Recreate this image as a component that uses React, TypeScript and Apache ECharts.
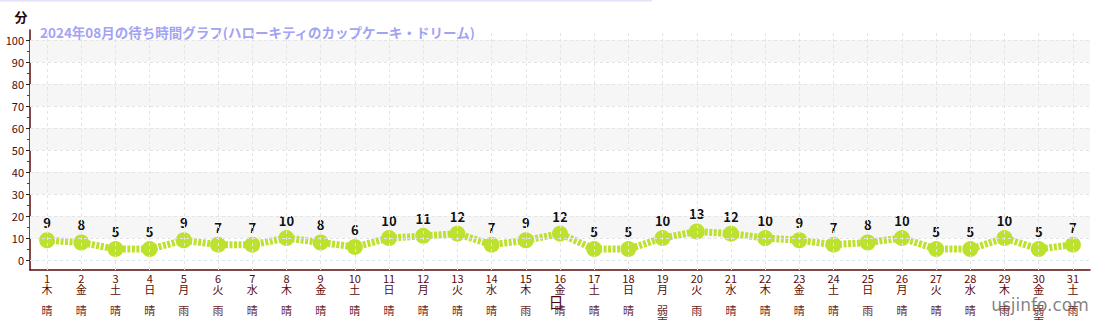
import React, { useEffect, useRef } from "react";
import * as echarts from "echarts";

const days = ["1","2","3","4","5","6","7","8","9","10","11","12","13","14","15","16","17","18","19","20","21","22","23","24","25","26","27","28","29","30","31"];
const weekdays = ["木","金","土","日","月","火","水","木","金","土","日","月","火","水","木","金","土","日","月","火","水","木","金","土","日","月","火","水","木","金","土"];
const weather = ["晴","晴","晴","晴","雨","雨","晴","晴","晴","晴","晴","晴","晴","晴","雨","晴","晴","晴","弱雨","雨","晴","晴","晴","晴","雨","晴","晴","晴","雨","弱雨","雨"];
const waitMinutes = [9,8,5,5,9,7,7,10,8,6,10,11,12,7,9,12,5,5,10,13,12,10,9,7,8,10,5,5,10,5,7];
const yTicks = [0,10,20,30,40,50,60,70,80,90,100];
const yMinorTicks = [5,15,25,35,45,55,65,75,85,95];
const bands = [[10,20],[30,40],[50,60],[70,80],[90,100]];
const chartTitle = "2024年08月の待ち時間グラフ(ハローキティのカップケーキ・ドリーム)";
const yName = "分";
const xName = "日";
const watermark = "usjinfo.com";

const FONT = '"Noto Sans CJK JP", "Noto Sans", sans-serif';

export default function App() {
  const ref = useRef<HTMLDivElement>(null);
  useEffect(() => {
    if (!ref.current) return;
    const chart = echarts.init(ref.current, null, { renderer: "svg" });
    const option: any = {
      animation: false,
      textStyle: { fontFamily: FONT },
      grid: { left: 30, right: 10, top: 30, bottom: 50, containLabel: false, outerBoundsMode: "none" },
      xAxis: {
        type: "category",
        data: days,
        boundaryGap: true,
        axisLine: { onZero: false, lineStyle: { color: "#5a0a0a", width: 1.5 } },
        axisTick: { alignWithLabel: true, length: 4, lineStyle: { color: "#333" } },
        axisLabel: {
          interval: 0,
          margin: 3,
          fontSize: 11,
          lineHeight: 10.7,
          color: "#5a0a0a",
          fontFamily: FONT,
          formatter: (v: string, i: number) => {
            const w = weather[i].split("").map((c) => `{w|${c}}`).join("\n");
            return `${v}\n${weekdays[i]}\n\n${w}`;
          },
          rich: { w: { color: "#6a2424", fontSize: 11, lineHeight: 10.7, fontFamily: FONT } },
        },
        splitLine: { show: false },
      },
      yAxis: [
        {
          type: "value",
          min: -4.5,
          max: 104.5,
          axisLine: { show: true, lineStyle: { color: "#5a0a0a", width: 1.5 } },
          axisTick: { show: true, customValues: yTicks, length: 4, lineStyle: { color: "#222" } },
          axisLabel: { customValues: yTicks, fontSize: 11, color: "#4a0a0a", margin: 6, fontFamily: FONT },
          splitLine: { show: false },
        },
        {
          type: "value",
          min: -4.5,
          max: 104.5,
          position: "left",
          axisLine: { show: false },
          axisTick: { show: true, customValues: yMinorTicks, length: 3, lineStyle: { color: "#e00000" } },
          axisLabel: { show: false },
          splitLine: { show: false },
        },
      ],
      series: [
        {
          type: "line",
          data: waitMinutes,
          symbol: "circle",
          symbolSize: 16,
          itemStyle: { color: "#bde12f" },
          lineStyle: { color: "#bde12f", width: 7, type: [3, 1.5] },
          label: { show: true, position: "top", distance: 3, fontSize: 13, fontWeight: "bold", color: "#111", fontFamily: FONT },
          z: 3,
          markArea: {
            silent: true,
            itemStyle: { color: "#f6f6f6" },
            data: bands.map(([a, b]) => [{ yAxis: a }, { yAxis: b }]),
          },
          markLine: {
            silent: true,
            symbol: "none",
            label: { show: false },
            lineStyle: { color: "#e4e4e4", type: [3, 3], width: 1 },
            emphasis: { disabled: true },
            data: [...yTicks.map((v) => ({ yAxis: v })), ...days.map((d) => ({ xAxis: d }))],
          },
        },
      ],
      graphic: [
        { type: "rect", left: 0, top: 0, shape: { width: 652, height: 1.5 }, style: { fill: "#e2e2fa" } },
        {
          type: "text", x: 40, y: 32,
          style: { text: chartTitle, fontSize: 13.5, fontWeight: "bold", fill: "#a3a3f3", verticalAlign: "middle", fontFamily: FONT },
        },
        {
          type: "text", x: 21, y: 16,
          style: { text: yName, fontSize: 13, fontWeight: "bold", fill: "#2a0505", align: "center", verticalAlign: "middle", fontFamily: FONT },
        },
        {
          type: "text", x: 556, y: 301,
          style: { text: xName, fontSize: 15, fill: "#4a0a0a", align: "center", verticalAlign: "middle", fontFamily: FONT },
        },
        {
          type: "text", x: 1040, y: 305, z: 100,
          style: { text: watermark, fontSize: 17, fill: "rgba(90,90,90,0.75)", align: "center", verticalAlign: "middle", fontFamily: '"DejaVu Sans", sans-serif' },
        },
      ],
    };
    chart.setOption(option);
    return () => chart.dispose();
  }, []);
  return <div ref={ref} style={{ position: "fixed", left: 0, top: 0, width: 1100, height: 320, background: "#fff" }} />;
}
